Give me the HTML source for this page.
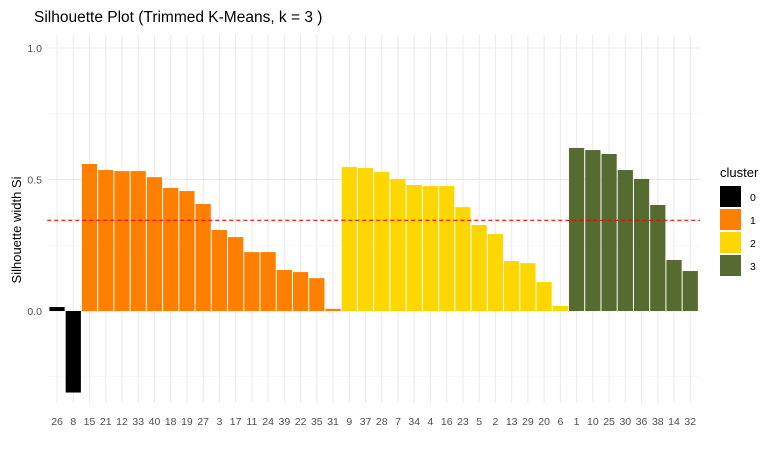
<!DOCTYPE html>
<html><head><meta charset="utf-8"><style>
body{margin:0;background:#fff;font-family:"Liberation Sans",sans-serif}
</style></head><body>
<svg id="c" width="778" height="454" xmlns="http://www.w3.org/2000/svg">
<rect width="778" height="454" fill="#fff"/>
<text x="34" y="22" font-size="15.5" fill="#000">Silhouette Plot (Trimmed K-Means, k = 3 )</text>
<text transform="translate(21,230) rotate(-90)" text-anchor="middle" font-size="13" fill="#000">Silhouette width Si</text>
<g id="grid"></g><g id="bars"></g><g id="ax"></g><g id="legend"></g>
</svg>
<script>
const categories=["26","8","15","21","12","33","40","18","19","27","3","17","11","24","39","22","35","31","9","37","28","7","34","4","16","23","5","2","13","29","20","6","1","10","25","30","36","38","14","32"];
const values=[0.015,-0.31,0.559,0.536,0.532,0.532,0.509,0.468,0.456,0.407,0.308,0.281,0.224,0.224,0.156,0.148,0.125,0.008,0.548,0.544,0.529,0.502,0.479,0.475,0.475,0.395,0.327,0.293,0.19,0.182,0.11,0.019,0.62,0.612,0.597,0.536,0.502,0.403,0.194,0.152];
const clusters=[0,0,1,1,1,1,1,1,1,1,1,1,1,1,1,1,1,1,2,2,2,2,2,2,2,2,2,2,2,2,2,2,3,3,3,3,3,3,3,3];
const clusterNames=["0","1","2","3"];
const yTicks=[0,0.5,1.0];
const yTickLabels=["0.0","0.5","1.0"];
const avgWidth=0.345;
const colors=["#000000","#FF7F00","#FFD700","#556B2F"];
const NS="http://www.w3.org/2000/svg";
const L=47.3,R=700,band=(R-L)/(categories.length+0.2);
const x0=L+0.6*band;
function xc(i){return x0+i*band;}
function y(v){return 311-v*263;}
function mk(t,a,p){const e=document.createElementNS(NS,t);for(const k in a)e.setAttribute(k,a[k]);p.appendChild(e);return e;}
const g=document.getElementById('grid'),b=document.getElementById('bars'),ax=document.getElementById('ax'),lg=document.getElementById('legend');
const plotTop=y(1.05),plotBottom=y(-0.35);
[-0.25,0.25,0.75].forEach(v=>{const l=mk('line',{x1:L,x2:R,y1:y(v),y2:y(v),stroke:'#f2f2f2','stroke-width':0.6},g);});
yTicks.forEach((v,i)=>{const l=mk('line',{x1:L,x2:R,y1:y(v),y2:y(v),stroke:'#ebebeb','stroke-width':1.1},g);
const t=mk('text',{x:42,y:y(v)+4,'text-anchor':'end','font-size':10.5,fill:'#4d4d4d'},ax);t.textContent=yTickLabels[i];});
categories.forEach((c,i)=>{const l=mk('line',{x1:xc(i),x2:xc(i),y1:plotTop,y2:plotBottom,stroke:'#ebebeb','stroke-width':1.1},g);
const v=values[i];const r=mk('rect',{x:xc(i)-band/2+0.5,width:band-1,y:Math.min(y(v),y(0)),height:Math.abs(y(v)-y(0)),fill:colors[clusters[i]]},b);
const t=mk('text',{x:xc(i),y:425,'text-anchor':'middle','font-size':10.5,fill:'#4d4d4d'},ax);t.textContent=c;});
const al=mk('line',{x1:L,x2:R,y1:y(avgWidth),y2:y(avgWidth),stroke:'#ff0000','stroke-width':1.1,'stroke-dasharray':'4,3'},ax);


const lt=mk('text',{x:720,y:177,'font-size':13,fill:'#000'},lg);lt.textContent='cluster';


clusterNames.forEach((n,i)=>{const r=mk('rect',{x:720,y:186+i*23,width:21,height:21,fill:colors[i]},lg);
const t=mk('text',{x:750,y:201+i*23,'font-size':10.5,fill:'#000'},lg);t.textContent=n;});
</script>
</body></html>
